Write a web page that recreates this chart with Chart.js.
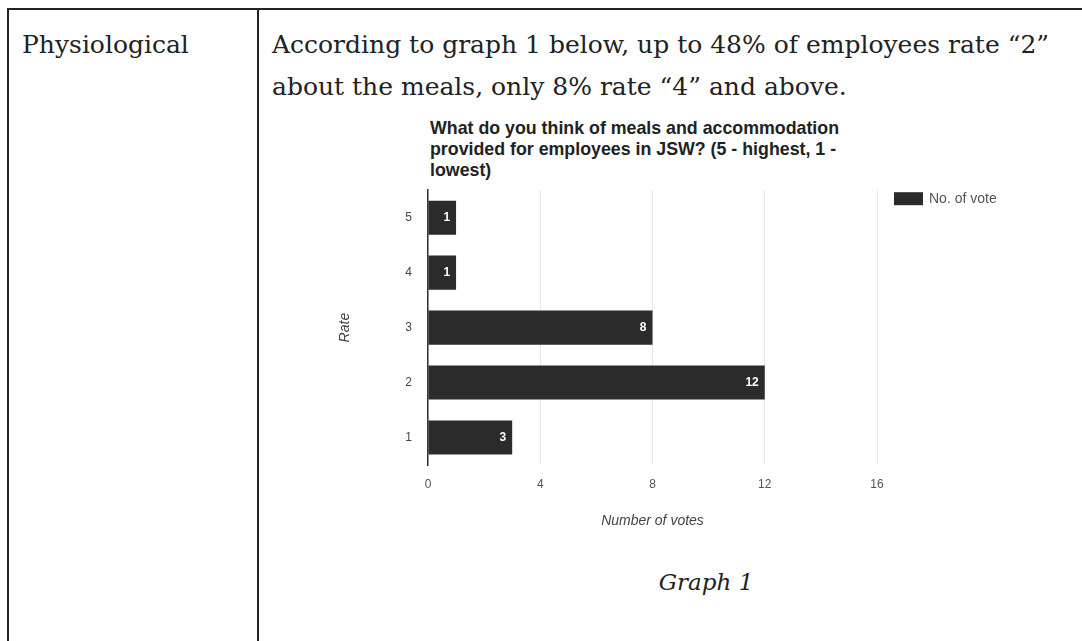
<!DOCTYPE html>
<html>
<head>
<meta charset="utf-8">
<script src="https://cdn.jsdelivr.net/npm/chart.js@4.4.1/dist/chart.umd.min.js"></script>
<style>
body{margin:0;background:#fff;width:1082px;height:641px;overflow:hidden;position:relative;font-family:"DejaVu Serif",serif;color:#222}
.frame{position:absolute;left:7px;top:8px;width:1100px;height:700px;border:2px solid #222;box-sizing:border-box}
.divider{position:absolute;left:257px;top:8px;width:2px;height:700px;background:#222}
.label{position:absolute;left:22px;top:24px;font-size:25px;line-height:42px;white-space:nowrap}
.text{position:absolute;left:272px;top:24px;font-size:25px;line-height:42px;white-space:nowrap}
.ctitle{position:absolute;left:430px;top:118px;font:bold 17.8px "Liberation Sans",Arial,sans-serif;line-height:21px;color:#222;white-space:nowrap}
.caption{position:absolute;left:606px;width:200px;top:567px;text-align:center;font-style:italic;font-size:23px;line-height:30px}
#wrap{position:absolute;left:330px;top:167px;width:730px;height:368px}
</style>
</head>
<body>
<div class="frame"></div>
<div class="divider"></div>
<div class="label">Physiological</div>
<div class="text">According to graph 1 below, up to 48% of employees rate “2”<br>about the meals, only 8% rate “4” and above.</div>
<div class="ctitle">What do you think of meals and accommodation<br>provided for employees in JSW? (5 - highest, 1 -<br>lowest)</div>
<div id="wrap"><canvas id="chart"></canvas></div>
<div class="caption">Graph 1</div>
<script>
const rates=["5","4","3","2","1"]
const votes=[1,1,8,12,3]
const xTicks=[0,4,8,12,16]
const seriesName="No. of vote"

const barColor="#2b2b2b"
const sans='"Liberation Sans",Arial,sans-serif'

// value printed inside the end of each bar
const barLabels={
id:"barLabels",
afterDatasetsDraw(chart){
const ctx=chart.ctx
ctx.save()
ctx.font="bold 12px "+sans
ctx.fillStyle="#fff"
ctx.textAlign="right"
ctx.textBaseline="middle"
chart.getDatasetMeta(0).data.forEach((bar,i)=>{
ctx.fillText(votes[i],bar.x-6,bar.y)
})
ctx.restore()
}
}

// legend sits a little right of the plot, level with its top
const sideLegend={
id:"sideLegend",
afterDraw(chart){
const ctx=chart.ctx
const a=chart.chartArea
ctx.save()
ctx.fillStyle=barColor
ctx.fillRect(a.right+17,a.top+2,29,13)
ctx.fillStyle="#555"
ctx.font="14px "+sans
ctx.textBaseline="middle"
ctx.fillText(seriesName,a.right+52,a.top+8.5)
ctx.restore()
}
}

new Chart(document.getElementById("chart"),{
type:"bar",
data:{
labels:rates,
datasets:[{
label:seriesName,
data:votes,
backgroundColor:barColor,
borderWidth:0,
barPercentage:0.62,
categoryPercentage:1
}]
},
options:{
indexAxis:"y",
responsive:true,
maintainAspectRatio:false,
animation:false,
layout:{padding:{top:0,right:183,bottom:0,left:0}},
plugins:{legend:{display:false},tooltip:{enabled:false}},
scales:{
x:{
min:xTicks[0],
max:xTicks[xTicks.length-1],
afterBuildTicks:s=>{s.ticks=xTicks.map(v=>({value:v}))},
afterFit:s=>{s.height=70},
grid:{color:"#e8e8e8",drawTicks:false},
border:{display:false},
ticks:{padding:12,color:"#555",font:{family:sans,size:12}},
title:{display:true,text:"Number of votes",color:"#444",padding:{top:0,bottom:5},font:{family:sans,size:14,style:"italic"}}
},
y:{
afterFit:s=>{s.width=98},
grid:{display:false,drawTicks:false},
border:{display:true,color:"#333",width:1.5},
ticks:{padding:16,color:"#444",font:{family:sans,size:12}},
title:{display:true,text:"Rate",color:"#444",padding:{top:7,bottom:0},font:{family:sans,size:14,style:"italic"}}
}
}
},
plugins:[barLabels,sideLegend]
})
</script>
</body>
</html>
